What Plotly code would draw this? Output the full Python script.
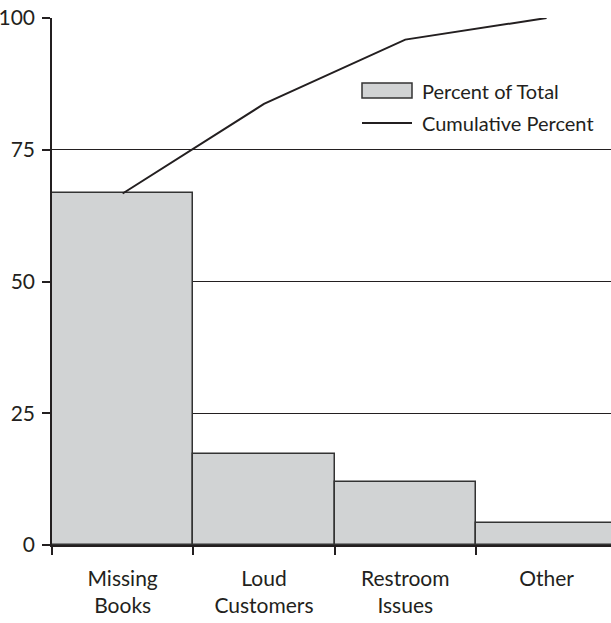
import plotly.graph_objects as go

# Pareto data: share of complaints by category
categories = ["Missing<br>Books", "Loud<br>Customers", "Restroom<br>Issues", "Other"]
percent_of_total = [66.7, 17.2, 12.0, 4.1]
cumulative_percent = [66.7, 83.7, 95.9, 100.0]
y_ticks = [0, 25, 50, 75, 100]
bar_name = "Percent of Total"
line_name = "Cumulative Percent"

FONT = "Lato"
INK = "#231f20"
BAR_FILL = "#d1d3d4"
FS = 21

fig = go.Figure()
fig.add_trace(go.Bar(
    x=categories, y=percent_of_total, name=bar_name,
    marker=dict(color=BAR_FILL, line=dict(color="#333333", width=1.5)),
    showlegend=False,
))
fig.add_trace(go.Scatter(
    x=categories, y=cumulative_percent, name=line_name, mode="lines",
    line=dict(color=INK, width=2),
    showlegend=False,
))

# Legend drawn as shapes plus labels in paper space
L, R, T, B = 52, 611, 18, 545
def px(xp):
    return (xp - L) / (R - L)
def py(yp):
    return (B - yp) / (B - T)

fig.add_shape(type="rect", xref="paper", yref="paper",
              x0=px(362), x1=px(412), y0=py(98), y1=py(83),
              fillcolor=BAR_FILL, line=dict(color="#333333", width=1.5))
fig.add_shape(type="line", xref="paper", yref="paper",
              x0=px(362), x1=px(412), y0=py(123), y1=py(123),
              line=dict(color=INK, width=2))
for label, yc in [(bar_name, 91), (line_name, 123)]:
    fig.add_annotation(xref="paper", yref="paper", x=px(420), y=py(yc),
                       text=label, showarrow=False, xanchor="left", yanchor="middle",
                       font=dict(family=FONT, size=20, color=INK))

fig.update_layout(
    width=611, height=623,
    margin=dict(l=L, r=611 - R, t=T, b=623 - B),
    paper_bgcolor="white", plot_bgcolor="white",
    bargap=0,
    font=dict(family=FONT, size=FS, color=INK),
)
fig.update_xaxes(
    range=[-0.5, 3.456], showgrid=False, zeroline=False, automargin=False,
    showline=True, linecolor=INK, linewidth=1.5,
    ticks="outside", tickson="boundaries", ticklen=8, tickwidth=1.5, tickcolor=INK,
    ticklabelstandoff=14,
    tickfont=dict(family=FONT, size=FS, color=INK),
)
fig.update_yaxes(
    range=[0, 100], tickvals=y_ticks, showgrid=True, gridcolor=INK, gridwidth=1.3,
    zeroline=False, showline=True, linecolor=INK, linewidth=1.5, automargin=False,
    ticks="outside", ticklen=8, tickwidth=1.5, tickcolor=INK,
    ticklabelstandoff=3,
    tickfont=dict(family=FONT, size=FS, color=INK),
)

fig.write_html("out.html")
